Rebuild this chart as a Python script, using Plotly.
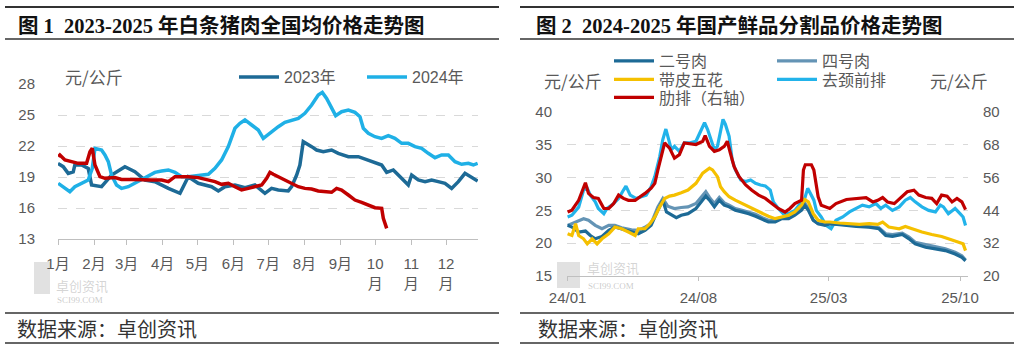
import pandas as pd
import plotly.graph_objects as go

W, H = 1017, 354

# ---------------- Figure 1 data (day of year, yuan/kg) ----------------
month_days = [0, 31, 59, 90, 120, 151, 181, 212, 243, 273, 304, 334]
month_labels = ["1月", "2月", "3月", "4月", "5月", "6月", "7月", "8月", "9月",
                "10<br>月", "11<br>月", "12<br>月"]

d2023 = [0, 4.5, 8.8, 13.1, 14.5, 20.3, 26, 28.9, 37.5, 46.1, 57.6, 66.2, 74.8, 83.4,
         95, 105, 112.1, 120.7, 132.2, 138, 143.7, 152.3, 161, 169.5, 178.1, 183.8,
         189.6, 198.2, 201.1, 205.4, 208.2, 210.2, 211.1, 218.3, 222.6, 228.3, 235.5,
         241.2, 249.9, 258.5, 264.2, 272.8, 278.6, 282.9, 288.6, 292.9, 298.6, 301.5,
         304.4, 310.1, 315.9, 321.6, 327.3, 333.1, 338.8, 344.6, 350.3, 356.0, 361.2]
v2023 = [20.3, 20.0, 19.35, 19.5, 20.16, 20.16, 19.84, 18.23, 18.06, 19.19, 20.0, 19.52,
         18.71, 18.55, 17.9, 17.42, 19.03, 18.39, 18.06, 17.65, 18.06, 18.23, 17.97,
         18.23, 17.42, 17.9, 17.74, 17.65, 18.06, 19.19, 20.16, 22.26, 22.42, 21.94,
         21.61, 21.45, 21.61, 21.29, 20.97, 20.97, 20.74, 20.48, 20.16, 19.45, 19.68,
         19.19, 18.55, 18.23, 19.19, 18.71, 18.55, 18.71, 18.55, 18.39, 17.9, 18.55,
         19.35, 18.94, 18.6]

d2024 = [0.2, 6, 10.2, 14.5, 20.3, 26, 29.5, 31.8, 37.5, 40.4, 43.3, 46.1, 50.4, 54.7,
         60.5, 66.2, 72, 77.7, 83.4, 89.2, 95, 100.7, 106.4, 112.1, 120.7, 129.4, 135.1,
         140.8, 146.6, 152.3, 156.6, 160.9, 166.7, 172.4, 176.7, 183.8, 189.6, 195.3,
         201.1, 206.8, 212.5, 218.3, 224, 227.5, 231.2, 235.5, 239, 244.1, 249.9, 255.6,
         259.9, 262.8, 267.1, 272.8, 278.6, 284.3, 290, 295.8, 301.5, 307.3, 313, 318.7,
         324.5, 330.2, 336, 341.7, 347.4, 353.2, 357.5, 361.2]
v2024 = [18.39, 17.9, 17.58, 18.06, 18.39, 18.71, 19.84, 21.77, 21.61, 21.13, 20.48,
         19.19, 18.23, 17.9, 18.06, 18.39, 18.71, 19.03, 19.45, 19.58, 19.68, 19.45,
         19.03, 19.03, 19.13, 19.26, 19.84, 20.65, 21.94, 23.71, 24.19, 24.52, 24.03,
         23.55, 22.74, 23.39, 23.87, 24.29, 24.52, 24.68, 25.16, 25.97, 26.94, 27.19,
         26.61, 25.65, 24.94, 25.32, 25.48, 25.26, 24.84, 23.71, 23.23, 22.9, 22.74,
         23.0, 22.74, 22.26, 22.26, 21.94, 21.77, 21.29, 20.87, 21.13, 21.13, 20.48,
         20.23, 20.32, 20.16, 20.32]

d2025 = [0.2, 1.6, 6, 11.7, 17.4, 24.6, 27.5, 29.5, 31.8, 36.1, 40.4, 49, 54.7, 63.3,
         72, 80.6, 89.2, 95, 100.7, 112.1, 120.7, 129.4, 135.1, 140.8, 146.6, 152.3, 158,
         163.8, 169.5, 175.3, 179.6, 182.4, 185.3, 189.6, 195.3, 201.1, 206.8, 212.5,
         218.3, 224, 229.8, 235.5, 239.8, 244.1, 249.9, 255.6, 261.3, 267.1, 272.8,
         278.6, 280, 282.9]
v2025 = [20.97, 21.13, 20.65, 20.48, 20.32, 20.32, 21.45, 21.77, 20.16, 19.03, 18.87,
         18.94, 18.77, 18.77, 18.71, 18.71, 18.71, 18.55, 19.03, 19.03, 18.94, 18.71,
         18.55, 18.29, 18.39, 18.06, 17.74, 17.9, 18.06, 18.23, 18.87, 19.45, 19.26,
         19.03, 18.71, 18.39, 18.06, 17.9, 17.84, 17.65, 17.58, 17.52, 17.9, 17.74,
         17.26, 16.77, 16.55, 16.29, 16.03, 15.97, 15.0, 14.03]

# ---------------- Figure 2 data (days since 2024-01-01, yuan/kg) ----------------
base_date = "2024-01-01"
x2_ticks = ["2024-01-01", "2024-08-01", "2025-03-01", "2025-10-01"]
x2_labels = ["24/01", "24/08", "25/03", "25/10"]

d_er = [0, 7, 18, 29, 37, 45, 56, 67, 77, 88, 104, 115, 126, 136, 147, 155, 161, 169,
        177, 185, 196, 209, 220, 225, 231, 239, 247, 255, 263, 273, 284, 295, 306, 317,
        327, 338, 349, 360, 370, 381, 386, 392, 400, 408, 419, 427, 448, 470, 491, 507,
        518, 529, 545, 556, 566, 583, 599, 615, 631, 642, 648]
v_er = [22.72, 22.46, 21.7, 21.85, 21.18, 20.67, 21.03, 21.95, 22.46, 22.2, 21.7, 21.44,
        21.95, 22.72, 25.03, 26.56, 24.77, 24.26, 23.9, 24.26, 24.5, 25.28, 26.56, 27.18,
        26.56, 25.54, 26.56, 25.8, 25.54, 25.03, 24.77, 24.5, 24.1, 23.59, 23.23, 23.23,
        23.74, 23.74, 24.26, 25.03, 25.8, 25.03, 23.5, 22.97, 22.72, 22.97, 22.72, 22.56,
        22.46, 22.2, 21.18, 21.03, 21.33, 20.67, 19.9, 19.38, 19.13, 18.87, 18.36, 17.85,
        17.33]

d_si = [0, 13, 26, 34, 45, 56, 67, 77, 88, 104, 115, 126, 136, 147, 155, 163, 174, 185,
        196, 209, 220, 225, 231, 239, 247, 255, 263, 273, 284, 295, 306, 317, 327, 338,
        349, 360, 370, 381, 386, 392, 400, 408, 419, 427, 448, 470, 491, 507, 518, 529,
        545, 556, 566, 583, 599, 615, 631, 642, 648]
v_si = [22.72, 23.23, 23.74, 23.49, 22.72, 22.2, 22.72, 22.72, 22.36, 22.05, 21.95,
        22.46, 22.97, 25.54, 26.82, 25.64, 25.28, 25.44, 25.54, 26.05, 27.33, 27.85,
        26.97, 26.05, 26.97, 26.15, 25.8, 25.28, 25.03, 24.77, 24.41, 23.9, 23.49, 23.49,
        23.9, 24.0, 24.5, 25.28, 26.15, 25.28, 23.49, 22.97, 22.97, 22.97, 22.87, 22.72,
        22.56, 22.36, 21.44, 21.33, 21.54, 20.92, 20.15, 19.79, 19.38, 19.13, 18.62,
        18.1, 17.44]

d_wh = [0, 7, 13, 18, 26, 32, 40, 48, 56, 67, 77, 88, 99, 110, 115, 126, 134, 142, 150,
        158, 166, 174, 185, 196, 209, 220, 231, 236, 244, 249, 255, 263, 273, 284, 295,
        306, 317, 327, 338, 349, 360, 370, 381, 386, 392, 400, 408, 419, 427, 443, 459,
        475, 491, 505, 513, 523, 540, 550, 561, 577, 593, 609, 626, 636, 644, 648]
v_wh = [21.44, 21.18, 22.97, 21.18, 20.67, 19.9, 20.67, 19.9, 20.67, 21.44, 22.46, 22.2,
        21.7, 21.18, 22.2, 22.2, 22.97, 24.0, 25.54, 26.82, 27.18, 27.33, 27.69, 28.1,
        29.13, 30.67, 31.44, 31.18, 30.15, 28.6, 27.85, 27.08, 26.56, 26.05, 25.54,
        25.03, 24.5, 24.1, 23.74, 24.0, 24.26, 24.77, 25.8, 26.67, 26.3, 24.5, 23.5,
        23.23, 23.23, 23.08, 22.97, 22.87, 22.97, 22.87, 23.23, 22.46, 22.2, 22.56, 22.2,
        21.7, 21.33, 21.03, 20.5, 20.15, 19.9, 18.87]

d_qj = [0, 7, 18, 26, 32, 37, 45, 50, 59, 64, 72, 83, 91, 95, 102, 112, 120, 128, 136,
        142, 150, 155, 160, 163, 169, 174, 182, 190, 198, 209, 217, 223, 228, 233, 239,
        244, 249, 253, 257, 263, 268, 273, 282, 290, 298, 306, 314, 322, 330, 335, 343,
        351, 360, 370, 381, 386, 391, 394, 401, 405, 413, 421, 429, 437, 448, 459, 470,
        480, 491, 502, 510, 518, 529, 540, 550, 558, 566, 577, 588, 599, 607, 612, 620,
        631, 639, 644, 648]
v_qj = [24.0, 24.26, 25.5, 28.1, 28.36, 27.33, 26.3, 25.3, 24.5, 25.3, 25.8, 26.8, 28.1,
        28.7, 27.33, 26.8, 27.08, 27.33, 28.6, 30.15, 33.2, 35.8, 37.4, 36.3, 34.26,
        34.77, 34.0, 35.28, 35.28, 35.54, 37.33, 38.36, 37.33, 35.8, 34.26, 34.77, 36.8,
        38.87, 38.1, 36.3, 32.7, 31.2, 29.64, 29.4, 29.64, 29.13, 28.87, 28.72, 28.1,
        26.3, 25.3, 24.5, 24.5, 25.0, 26.3, 26.8, 28.36, 27.85, 26.56, 25.0, 24.0, 22.7,
        22.2, 23.5, 24.0, 24.77, 25.3, 25.8, 25.54, 26.05, 25.3, 25.8, 25.0, 25.54,
        26.56, 26.97, 26.3, 25.54, 25.0, 24.77, 25.8, 25.54, 24.5, 25.3, 24.5, 24.0, 22.7]

# 肋排 on the right axis
d_lp = [0, 7, 18, 26, 29, 34, 42, 50, 59, 67, 75, 83, 91, 99, 110, 118, 126, 136, 142,
        147, 153, 158, 166, 174, 182, 190, 209, 220, 224, 231, 239, 247, 255, 260, 265,
        271, 279, 290, 300, 311, 322, 333, 343, 354, 362, 370, 381, 384, 387, 397, 401,
        408, 413, 427, 437, 454, 470, 486, 497, 505, 513, 521, 532, 542, 553, 564, 572,
        583, 593, 601, 609, 618, 626, 634, 642, 648]
v_lp = [43.4, 44.1, 47.7, 52.7, 54.1, 50.2, 48.7, 48.4, 44.7, 44.7, 46.5, 49.6, 48.4,
        47.7, 47.7, 49.0, 50.2, 52.1, 53.9, 58.8, 64.4, 68.7, 66.8, 63.1, 64.4, 68.7,
        68.1, 69.3, 71.4, 67.4, 65.6, 66.2, 67.4, 69.3, 65.0, 60.1, 56.4, 53.3, 51.4,
        49.6, 48.4, 46.5, 44.7, 43.4, 44.7, 46.5, 47.7, 58.8, 60.7, 60.7, 58.8, 49.0,
        45.9, 44.7, 46.5, 48.0, 48.4, 48.7, 47.1, 47.7, 48.7, 47.1, 46.5, 48.7, 50.8,
        51.4, 49.6, 48.7, 48.4, 46.5, 49.6, 49.2, 47.1, 48.4, 47.1, 44.3]


def to_dates(days):
    return pd.Timestamp(base_date) + pd.to_timedelta(days, unit="D")


def px(x):
    return x / W


def py(y):
    return 1 - y / H


GRAY = "#595959"
NUM_FONT = "Liberation Sans, Noto Sans CJK SC, sans-serif"
CJK_FONT = "Noto Sans CJK SC, sans-serif"

fig = go.Figure()

# ---- Figure 1 traces ----
fig.add_trace(go.Scatter(x=d2023, y=v2023, mode="lines", name="2023年",
                         line=dict(color="#1d6a96", width=3.5), legend="legend",
                         xaxis="x", yaxis="y"))
fig.add_trace(go.Scatter(x=d2024, y=v2024, mode="lines", name="2024年",
                         line=dict(color="#1fb0e6", width=3.5), legend="legend",
                         xaxis="x", yaxis="y"))
fig.add_trace(go.Scatter(x=d2025, y=v2025, mode="lines", name="2025年",
                         line=dict(color="#c00000", width=3.5), showlegend=False,
                         xaxis="x", yaxis="y"))

# ---- Figure 2 traces ----
fig.add_trace(go.Scatter(x=to_dates(d_qj), y=v_qj, mode="lines", name="去颈前排",
                         line=dict(color="#22b3ea", width=3.2), legend="legend3",
                         legendrank=2, xaxis="x2", yaxis="y2"))
fig.add_trace(go.Scatter(x=to_dates(d_si), y=v_si, mode="lines", name="四号肉",
                         line=dict(color="#6494b5", width=3.2), legend="legend2",
                         legendrank=2, xaxis="x2", yaxis="y2"))
fig.add_trace(go.Scatter(x=to_dates(d_er), y=v_er, mode="lines", name="二号肉",
                         line=dict(color="#1d6a96", width=3.2), legend="legend2",
                         legendrank=1, xaxis="x2", yaxis="y2"))
fig.add_trace(go.Scatter(x=to_dates(d_wh), y=v_wh, mode="lines", name="带皮五花",
                         line=dict(color="#f5c000", width=3.2), legend="legend3",
                         legendrank=1, xaxis="x2", yaxis="y2"))
fig.add_trace(go.Scatter(x=to_dates(d_lp), y=v_lp, mode="lines", name="肋排（右轴）",
                         line=dict(color="#c00000", width=3.2), legend="legend4",
                         xaxis="x2", yaxis="y3"))

axis_common = dict(tickfont=dict(family=NUM_FONT, size=15, color=GRAY), zeroline=False,
                   automargin=False)

legend_common = dict(orientation="h", bgcolor="rgba(0,0,0,0)", itemwidth=40,
                     font=dict(family=NUM_FONT, size=16, color=GRAY),
                     xanchor="left", yanchor="middle", entrywidthmode="pixels",
                     xref="container", yref="container",
                     tracegroupgap=0, itemclick=False)

fig.update_layout(
    width=W, height=H, autosize=False,
    margin=dict(l=0, r=0, t=0, b=0, autoexpand=False),
    paper_bgcolor="white", plot_bgcolor="white",
    font=dict(family=CJK_FONT, color=GRAY),
    xaxis=dict(domain=[px(58), px(478)], range=[0, 361.5], tickmode="array",
               tickvals=month_days, ticktext=month_labels, ticks="outside", ticklen=5,
               tickcolor="#bfbfbf", showline=True, linecolor="#bfbfbf", showgrid=False,
               anchor="y", ticklabelstandoff=6, **axis_common),
    yaxis=dict(domain=[py(239), py(84)], range=[13, 28], tick0=13, dtick=3,
               showgrid=True, gridcolor="#d9d9d9", griddash="dash", showline=False,
               anchor="x", ticklabelstandoff=22, **axis_common),
    xaxis2=dict(domain=[px(567), px(968)], type="date",
                range=["2023-12-31", "2025-10-14"], tickmode="array",
                tickvals=x2_ticks, ticktext=x2_labels, ticks="outside", ticklen=4,
                tickcolor="#bfbfbf", showline=True, linecolor="#bfbfbf", showgrid=False,
                anchor="y2", ticklabelstandoff=4, **axis_common),
    yaxis2=dict(domain=[py(276), py(112)], range=[15, 40], tick0=15, dtick=5,
                showgrid=True, gridcolor="#d9d9d9", griddash="dash", showline=False,
                anchor="x2", ticklabelstandoff=14, **axis_common),
    yaxis3=dict(range=[20, 80], tick0=20, dtick=12, overlaying="y2", side="right",
                anchor="x2", showgrid=False, showline=False, ticklabelstandoff=14,
                **axis_common),
    legend=dict(x=px(234), y=py(77), entrywidth=73, **legend_common),
    legend2=dict(x=px(609), y=py(61), entrywidth=108, **legend_common),
    legend3=dict(x=px(609), y=py(79.5), entrywidth=108, **legend_common),
    legend4=dict(x=px(609), y=py(97.5), entrywidth=108, **legend_common),
    showlegend=True,
)

# ---- titles, units, sources ----
TITLE_FONT = dict(family="Liberation Serif, Noto Sans CJK SC, serif", size=20.5,
                  color="#111111", weight="bold")
ann = []
ann.append(dict(text="图 1  2023-2025 年白条猪肉全国均价格走势图", x=px(16), y=py(26),
                xanchor="left", yanchor="middle", font=TITLE_FONT))
ann.append(dict(text="图 2  2024-2025 年国产鲜品分割品价格走势图", x=px(534), y=py(26),
                xanchor="left", yanchor="middle", font=TITLE_FONT))
unit_font = dict(family=CJK_FONT, size=17, color=GRAY)
ann.append(dict(text="元/公斤", x=px(63), y=py(77), xanchor="left", yanchor="middle",
                font=unit_font))
ann.append(dict(text="元/公斤", x=px(542), y=py(80), xanchor="left", yanchor="middle",
                font=unit_font))
ann.append(dict(text="元/公斤", x=px(928), y=py(80), xanchor="left", yanchor="middle",
                font=unit_font))
src_font = dict(family=CJK_FONT, size=20, color="#333333")
ann.append(dict(text="数据来源：卓创资讯", x=px(15), y=py(328), xanchor="left",
                yanchor="middle", font=src_font))
ann.append(dict(text="数据来源：卓创资讯", x=px(536), y=py(328), xanchor="left",
                yanchor="middle", font=src_font))
# watermarks
wm1 = dict(family=CJK_FONT, size=13, color="rgba(160,160,160,0.45)")
wm2 = dict(family="Liberation Serif, serif", size=9, color="rgba(160,160,160,0.55)")
ann.append(dict(text="卓创资讯", x=px(54), y=py(285), xanchor="left", yanchor="middle",
                font=wm1))
ann.append(dict(text="SCI99.COM", x=px(55), y=py(300), xanchor="left", yanchor="middle",
                font=wm2))
ann.append(dict(text="卓创资讯", x=px(585), y=py(267), xanchor="left", yanchor="middle",
                font=wm1))
ann.append(dict(text="SCI99.COM", x=px(586), y=py(286), xanchor="left", yanchor="middle",
                font=wm2))
for a in ann:
    a.update(xref="paper", yref="paper", showarrow=False)
fig.update_layout(annotations=ann)

shapes = []
for (x0, x1) in [(5, 499), (520, 1014)]:
    for yy, lw in [(7, 2), (39, 1.6), (313, 1.6), (343, 1.6)]:
        shapes.append(dict(type="line", xref="paper", yref="paper", x0=px(x0), x1=px(x1),
                           y0=py(yy), y1=py(yy), line=dict(color="#333333", width=lw)))
# watermark logo blocks
for (x0, y0, x1, y1) in [(34, 262, 50, 294), (557, 262, 580, 288)]:
    shapes.append(dict(type="rect", xref="paper", yref="paper", x0=px(x0), x1=px(x1),
                       y0=py(y1), y1=py(y0), line=dict(width=0),
                       fillcolor="rgba(170,170,170,0.35)", layer="below"))
fig.update_layout(shapes=shapes)

fig.write_html("out.html")
